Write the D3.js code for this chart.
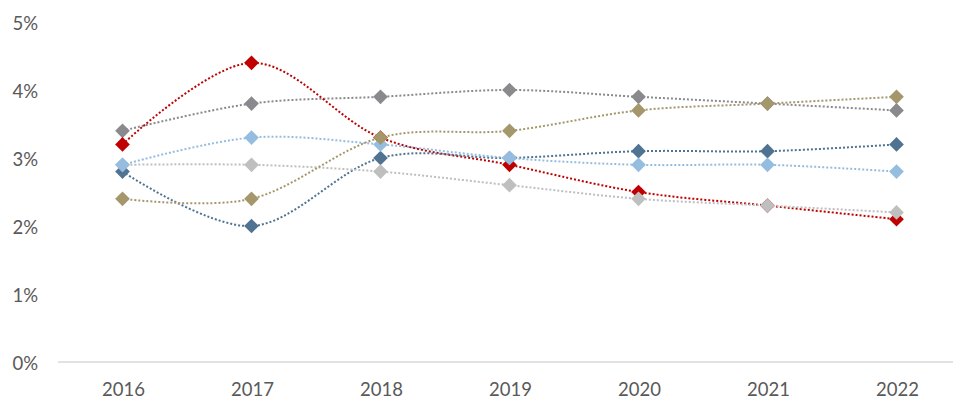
<!DOCTYPE html>
<html>
<head>
<meta charset="utf-8">
<script src="https://cdn.jsdelivr.net/npm/d3@7"></script>
<style>
  html, body { margin: 0; padding: 0; background: #fff; }
  svg { display: block; }
  text { font-family: Lato, "Open Sans", sans-serif; fill: #595959; }
</style>
</head>
<body>
<svg id="chart" width="953" height="400"></svg>
<script>
// Years on the category axis
const years = ["2016", "2017", "2018", "2019", "2020", "2021", "2022"];

// Rates per series (percent)
const seriesGray      = [3.4, 3.8, 3.9, 4.0, 3.9, 3.8, 3.7];
const seriesRed       = [3.2, 4.4, 3.3, 2.9, 2.5, 2.3, 2.1];
const seriesDarkBlue  = [2.8, 2.0, 3.0, 3.0, 3.1, 3.1, 3.2];
const seriesLightGray = [2.9, 2.9, 2.8, 2.6, 2.4, 2.3, 2.2];
const seriesLightBlue = [2.9, 3.3, 3.2, 3.0, 2.9, 2.9, 2.8];
const seriesTan       = [2.4, 2.4, 3.3, 3.4, 3.7, 3.8, 3.9];

// Y tick values (percent)
const yTicks = [0, 1, 2, 3, 4, 5];

// Drawing order: later series sit on top
const series = [
  { values: seriesGray,      color: "#8a8a8e" },
  { values: seriesRed,       color: "#c00000" },
  { values: seriesDarkBlue,  color: "#4f7391" },
  { values: seriesLightGray, color: "#bfbfbf" },
  { values: seriesLightBlue, color: "#95bde0" },
  { values: seriesTan,       color: "#a5976c" }
];

const svg = d3.select("#chart");
const plotLeft = 58, plotRight = 961, plotTop = 22, plotBottom = 362;
const fontSize = 18.5;

const x = d3.scaleBand().domain(years).range([plotLeft, plotRight]);
const y = d3.scaleLinear().domain([0, 5]).range([plotBottom, plotTop]);
const cx = d => x(d) + x.bandwidth() / 2;

// Baseline
svg.append("line")
  .attr("x1", plotLeft).attr("x2", 953)
  .attr("y1", y(0)).attr("y2", y(0))
  .attr("stroke", "#d9d9d9").attr("stroke-width", 1.3);

// Y-axis labels
const yAxis = d3.axisLeft(y).tickValues(yTicks).tickFormat(d => d + "%").tickSize(0).tickPadding(0);
const gy = svg.append("g").attr("transform", "translate(38,1)").call(yAxis);
gy.select(".domain").remove();
gy.selectAll("text")
  .attr("font-size", fontSize).attr("font-family", "Lato, 'Open Sans', sans-serif")
  .attr("fill", "#595959").attr("dy", "0.35em");

// X-axis labels
const xAxis = d3.axisBottom(x).tickSize(0).tickPadding(0);
const gx = svg.append("g").attr("transform", "translate(1,390)").call(xAxis);
gx.select(".domain").remove();
gx.selectAll("text")
  .attr("font-size", fontSize).attr("font-family", "Lato, 'Open Sans', sans-serif")
  .attr("fill", "#595959").attr("dy", "0.35em");

const line = d3.line()
  .x((d, i) => cx(years[i]))
  .y(d => y(d))
  .curve(d3.curveCardinal.tension(0));

const diamond = d3.symbol().type(d3.symbolSquare).size(108);

series.forEach(s => {
  const g = svg.append("g");
  g.append("path")
    .attr("d", line(s.values))
    .attr("fill", "none")
    .attr("stroke", s.color)
    .attr("stroke-width", 2)
    .attr("stroke-dasharray", "2,2");
  g.selectAll("path.marker")
    .data(s.values)
    .join("path")
    .attr("class", "marker")
    .attr("d", diamond)
    .attr("transform", (d, i) => `translate(${cx(years[i])},${y(d)}) rotate(45)`)
    .attr("fill", s.color);
});
</script>
</body>
</html>
